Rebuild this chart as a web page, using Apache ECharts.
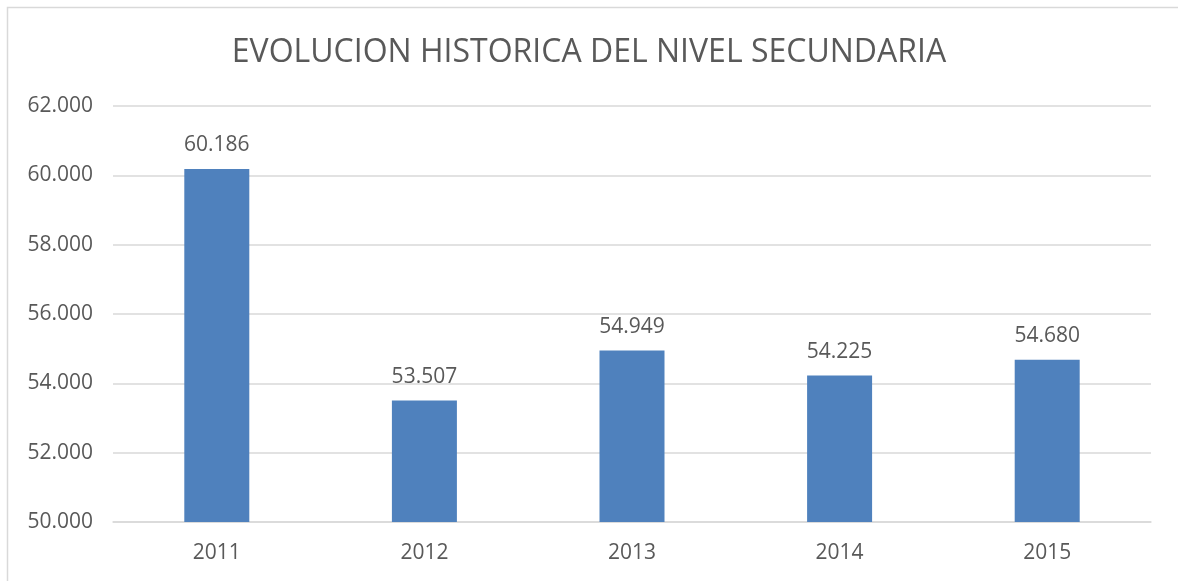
<!DOCTYPE html>
<html>
<head>
<meta charset="utf-8">
<script src="https://cdn.jsdelivr.net/npm/echarts@6/dist/echarts.min.js"></script>
<style>
  html, body { margin: 0; padding: 0; background: #fff; }
  #chart { width: 1178px; height: 581px; }
</style>
</head>
<body>
<div id="chart"></div>
<script>
// datos
var years = ['2011', '2012', '2013', '2014', '2015'];
var alumnos = [60186, 53507, 54949, 54225, 54680];

function puntos(v) {
    return String(v).replace(/\B(?=(\d{3})+(?!\d))/g, '.')
}

var chart = echarts.init(document.getElementById('chart'));
var option = {
    backgroundColor: '#fff',
    textStyle: { fontFamily: 'Open Sans', color: '#595959' },
    title: {
        text: 'EVOLUCION HISTORICA DEL NIVEL SECUNDARIA',
        left: 'center',
        top: 32,
        textStyle: { fontFamily: 'Open Sans', fontSize: 32, fontWeight: 'normal', color: '#595959' }
    },
    graphic: [{
        type: 'rect',
        shape: { x: 7.5, y: 7.5, width: 1200, height: 600 },
        style: { fill: null, stroke: '#d9d9d9', lineWidth: 1.5 },
        silent: true
    }],
    grid: { left: 113, right: 27, top: 106, bottom: 59 },
    xAxis: {
        type: 'category',
        data: years,
        axisLine: { lineStyle: { color: '#d9d9d9', width: 1.5 } },
        axisTick: { show: false },
        axisLabel: { fontSize: 21, color: '#595959', margin: 21 }
    },
    yAxis: {
        type: 'value',
        min: 50000,
        max: 62000,
        interval: 2000,
        axisLine: { show: false },
        axisTick: { show: false },
        splitLine: { lineStyle: { color: '#d9d9d9', width: 1.5 } },
        axisLabel: { fontSize: 21, color: '#595959', margin: 20, formatter: puntos }
    },
    series: [{
        type: 'bar',
        data: alumnos,
        barWidth: 65,
        itemStyle: { color: '#4f81bd' },
        label: {
            show: true,
            position: 'top',
            distance: 13,
            fontSize: 21,
            color: '#595959',
            formatter: function (p) { return puntos(p.value) }
        }
    }]
};
chart.setOption(option);
</script>
</body>
</html>
